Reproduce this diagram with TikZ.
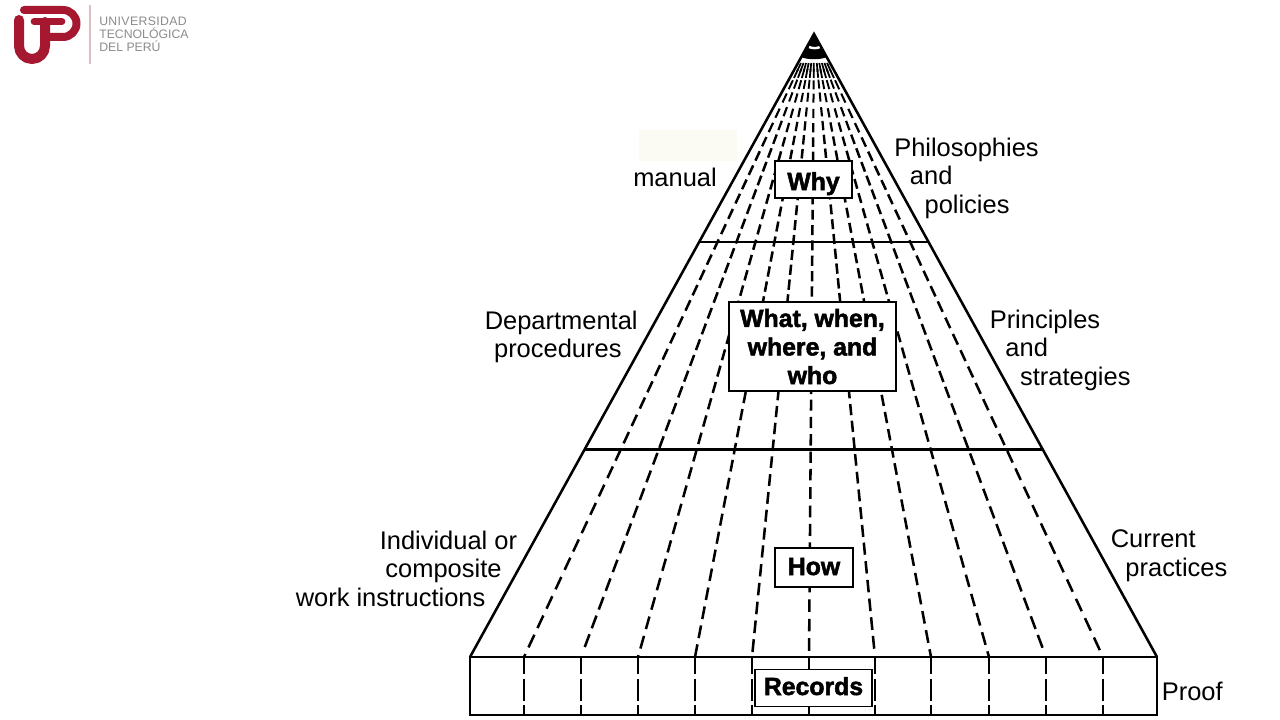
\documentclass[tikz,border=0pt]{standalone}
\usepackage{fontspec}
\setmainfont{Liberation Sans}
\newfontfamily\heavy[FakeBold=2]{Liberation Sans Bold}
\newfontfamily\unifont[LetterSpace=3]{Liberation Sans}
\newcommand{\ind}[1]{\hspace*{#1pt}}
\definecolor{utpred}{HTML}{A5182F}
\definecolor{utpgrey}{HTML}{8C8C8C}
\definecolor{utpline}{HTML}{DDBFC3}
\definecolor{patch}{HTML}{FBFBF3}
\tikzset{
  edge/.style={line width=1.9pt,black},
  rung/.style={line width=1.9pt,black,line cap=butt},
  side/.style={font=\fontsize{19.1}{21.4}\selectfont,inner sep=0pt,align=left,anchor=west},
  tag/.style={draw=black,line width=1.4pt,fill=white,font=\heavy\fontsize{18.6}{21.4}\selectfont,inner sep=0pt,align=center},
  logo/.style={utpred,line cap=round,line join=round},
  uni/.style={font=\fontsize{9.2}{9.8}\selectfont,text=utpgrey,inner sep=0pt,align=left,anchor=west}
}
\begin{document}
\begin{tikzpicture}[x=0.75pt,y=-0.75pt]
\useasboundingbox (0,0) rectangle (1280,720);
\fill[white] (0,0) rectangle (1280,720);
% logo
\draw[logo,line width=7.5pt] (19,20) -- (19,46) arc[start angle=180,end angle=360,x radius=13,y radius=-13] -- (45,22);
\draw[logo,line width=6pt] (24,10) -- (63,10) arc[start angle=90,end angle=-90,x radius=13.5,y radius=-13.5] -- (46,37);
\draw[logo,line width=5pt] (34,21.5) -- (62,21.5);
\draw[utpline,line width=0.8pt] (90,5) -- (90,64);
\node[uni] (utp) at (99,34) {{\unifont\fontsize{9.2}{9.8}\selectfont UNIVERSIDAD}\\TECNOLÓGICA\\DEL PERÚ};
% patch
\fill[patch] (639,130) rectangle (737,161);
% coordinates
\coordinate (apex) at (814,34);
\coordinate (bl) at (470,657);
\coordinate (br) at (1157,657);
\coordinate (bbr) at (1157,715);
\coordinate (t1l) at (700,242);
\coordinate (t1r) at (929,242);
\coordinate (t2l) at (585,449.5);
\coordinate (t2r) at (1042,449.5);
% dashes
\begin{scope}
\clip (470,61) rectangle (1157,657);
\foreach \bx [count=\i] in {524,581,638,695,752,809,875,931,989,1046,1103}{
  \foreach \s in {63,69,80,93,108,122,136,150,164,178,192,207,222,237,252,267,282,297,313,329,345,361,377,393,410,427,444,461,479,497,515,533,551,570,589,608,627,646}{
    \pgfmathsetmacro\off{sin(\i*137)*(\s-63)/594*12}
    \pgfmathsetmacro\e{\s+0.68*(13+0.01*(\s-63))}
    \pgfmathsetmacro\lw{min(1.9,1.3+(\s-63)/150)}
    \draw[rung,line width=\lw pt] ({814+(\bx-814)/622*(\s+\off-35)},{\s+\off}) -- ({814+(\bx-814)/622*(\e+\off-35)},{\e+\off});
  }
}
\end{scope}
\foreach \bx in {524,581,638,695,752,809,875,931,989,1046,1103}{
  \draw[rung] (\bx,657) -- (\bx,674);
  \draw[rung] (\bx,679) -- (\bx,701);
  \draw[rung] (\bx,705) -- (\bx,715);
}
% top
\fill[black] (apex) -- (801,57) .. controls (808,60) and (820,60) .. (827,57) -- cycle;
\draw[white,line width=1.8pt] (809,47) .. controls (812,48.5) and (817,48.5) .. (820,47);
% outline
\draw[edge,line join=miter] (bl) -- (apex) -- (br);
\draw[edge] (bl) rectangle (bbr);
\draw[edge] (t1l) -- (t1r);
\draw[edge] (t2l) -- (t2r);
% boxes
\node[tag,minimum width=57.75pt,minimum height=27.75pt,text height=15.8pt,text depth=0pt] (why) at (813.5,179.5) {Why};
\node[tag,minimum width=125.25pt,minimum height=66.75pt,text height=56.25pt,text depth=0pt] (what) at (812.5,346.5) {What, when,\\where, and\\who};
\node[tag,minimum width=58.5pt,minimum height=29.25pt,text height=11.25pt,text depth=0pt] (how) at (814,567.5) {How};
\node[tag,minimum width=87.75pt,minimum height=27.75pt,text height=10.5pt,text depth=0pt] (records) at (813.5,688) {Records};
% labels
\node[side] (manual) at (633,177) {manual};
\node[side] (phil) at (894,178) {Philosophies\\\ind{11.75}and\\\ind{22.75}policies};
\node[side] (dept) at (484.5,337) {Departmental\\\ind{7}procedures};
\node[side] (prin) at (989.5,350) {Principles\\\ind{11.75}and\\\ind{22.75}strategies};
\node[side] (indiv) at (295.5,568.5) {\ind{63}Individual or\\\ind{67.25}composite\\work instructions};
\node[side] (curr) at (1110.5,555.5) {Current\\\ind{11}practices};
\node[side] (proof) at (1161.5,691) {Proof};
\end{tikzpicture}
\end{document}
